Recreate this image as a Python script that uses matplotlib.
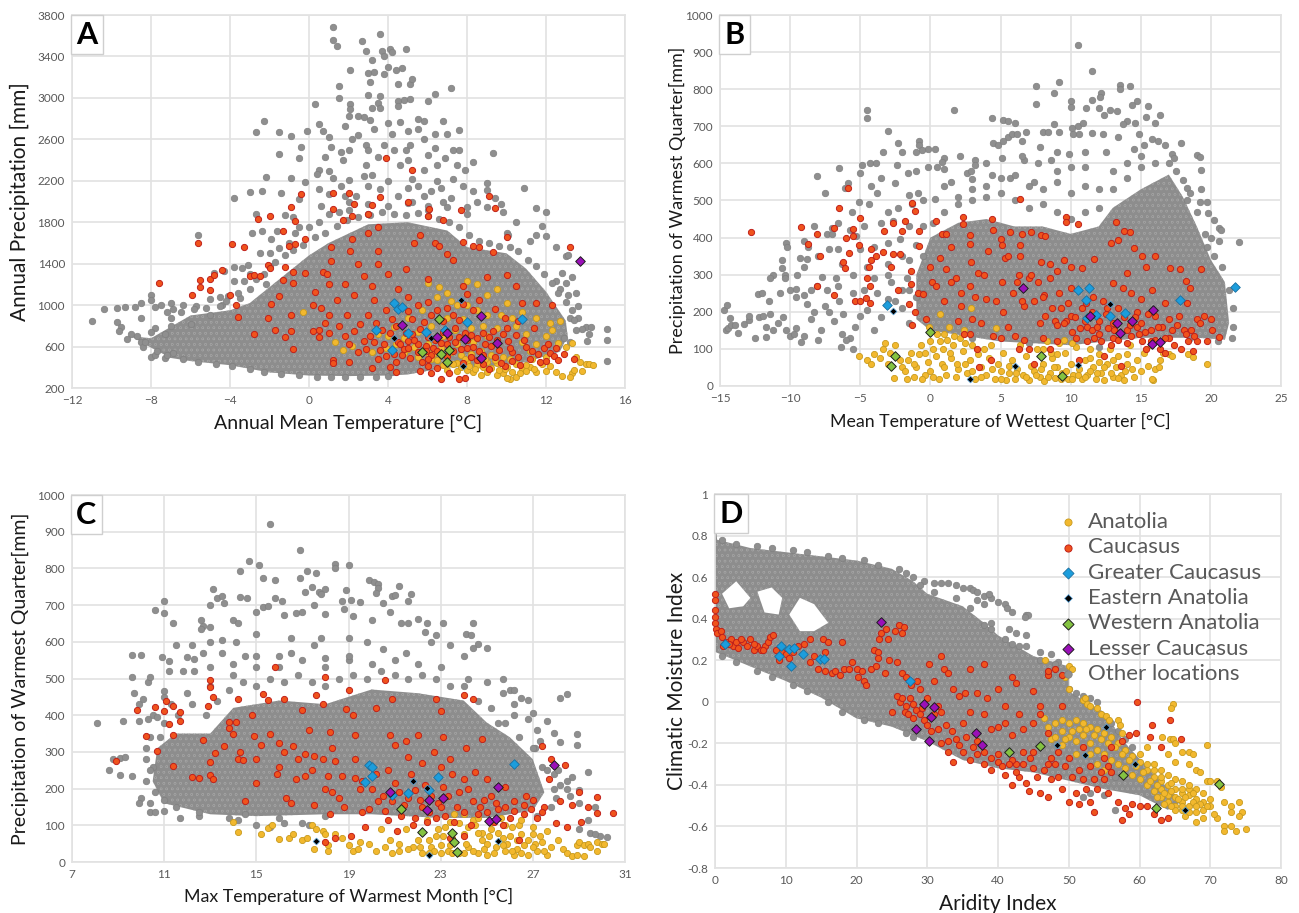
import matplotlib
matplotlib.use("Agg")
import matplotlib.pyplot as plt

plt.rcParams['font.family'] = ['Lato', 'DejaVu Sans']
plt.rcParams['hatch.linewidth'] = 0.3

# ---- panel A: annual mean temperature / annual precipitation ----
# solid part of the grey cloud, where single points can no longer be told apart
core_a = [(-9,700),(-8,680),(-6,900),(-4,950),(-3,1020),(-1.5,1250),(0,1480),(1,1600),(3,1780),(5,1800),(7,1720),(8,1560),(10,1500),(11,1350),(12,1130),(13,850),(13.1,700),(12.7,550),(11,450),(9,400),(7,400),(5,330),(4,320),(2,315),(0,320),(-2,350),(-4,420),(-6,460),(-7,490),(-8,590)]
other_a = [(1.2,3680),(1.2,3560),(1.4,3500),(2.7,3550),(3.6,3620),(2.9,3450),(3.2,3370),(3.7,3450),(3.8,3400),(4.1,3470),(4.2,3440),(4.9,3470),(2.1,3270),(3,3240),(3.3,3250),(3.8,3230),(4,3300),(4.4,3270),(4.7,3290),(3.1,3150),(4.5,3130),(5.1,3130),(5.2,3180),(1.5,3110),(1.5,3000),(3,3030),(3.5,2950),(3.6,3020),(4.5,2970),(4.8,2980),(5.1,2990),(6,2970),(6.4,3040),(7.2,3100),(2.1,2940),(2.1,2890),(0.3,2940),(3.2,2900),(3.6,2900),(4.5,2920),(5.5,2800),(5.8,2780),(6.8,2780),(2,2830),(2.5,2830),(2.8,2820),(3.1,2790),(1.8,2730),(0.5,2750),(-2.3,2780),(-2.7,2670),(-1.5,2670),(-0.9,2630),(-0.1,2680),(0.7,2680),(1,2620),(3.3,2700),(4,2760),(4.6,2770),(5,2680),(5.5,2700),(6.4,2650),(7.6,2690),(7,2650),(2.5,2640),(2.9,2550),(4.9,2500),(5.1,2550),(6.4,2520),(1.1,2530),(1.6,2480),(-0.4,2530),(-1.5,2460),(-0.5,2420),(0.8,2430),(2,2500),(3,2500),(3.5,2430),(5,2400),(6,2450),(7.3,2500),(7.6,2500),(8.3,2380),(9.3,2470),(0.5,2300),(1,2290),(1.7,2400),(2.9,2350),(4.6,2350),(5.8,2300),(6.5,2350),(7.5,2350),(7.9,2300),(-2.2,2240),(-0.9,2230),(-0.2,2190),(0.4,2270),(1.2,2230),(2,2210),(2.8,2250),(3.2,2260),(5.2,2220),(6.5,2200),(7.3,2220),(9,2180),(-3,2090),(-2.4,2100),(-1.4,2080),(0.5,2120),(1.6,2150),(3.6,2120),(5,2130),(6.7,2130),(8.3,2100),(9,2110),(10.9,2130),(-3.8,2030),(-0.5,2020),(1,2070),(2.4,2050),(4.5,2050),(5.8,2050),(7.2,2030),(8.5,2000),(9.4,2030),(9.7,1980),(-2.7,1880),(-1.2,1870),(-0.8,1850),(0.6,1960),(2,1920),(3,1880),(6,1920),(8,1880),(9,1950),(9.8,1900),(11.5,1940),(12,1900),(-2.9,1700),(-2.4,1720),(-1.6,1720),(-1.9,1640),(10.5,1800),(11.8,1760),(10,1700),(11.2,1620),(11.5,1680),(12,1670),(10.1,1680),(12.5,1560),(13,1470),(13.1,1480),(-5.6,1680),(12.8,1310),(13.3,1270),(13,1210),(13.5,1120),(12.5,1230),(12.7,1160),(13.1,1100),(13.6,990),(13.2,880),(13.6,880),(14,790),(14.3,790),(15.1,770),(15.1,660),(15.1,460),(14.1,650),(13.8,770),(14.2,720),(-3.4,1360),(-3.1,1390),(-3.8,1370),(-4.3,1330),(-4.8,1310),(-3.8,1230),(-3.3,1230),(-3.5,1070),(-4.1,1090),(-4.4,1000),(-5.7,990),(-6.4,1000),(-7,1020),(-6.9,960),(-7.2,930),(-8,1100),(-8,1050),(-8.5,1020),(-8.8,980),(-9.3,980),(-9.7,970),(-10.4,960),(-11,850),(-9.7,840),(-9.5,790),(-9.6,750),(-9,720),(-8.7,700),(-9.2,670),(-8.5,640),(-8.4,600),(-8,500),(-7.8,520),(-7.3,490),(-7.8,980),(-7.5,1000),(-7.8,780),(-8.5,880),(-7.3,720),(-6.9,540),(-2,1500),(-1,1600),(-0.5,1750),(0.5,1800),(1.5,1900),
           (-7,880),(-6.5,930),(-5.8,960),(-5.2,970),(-4.5,990),(-4.2,1040),(-3.6,1120),(-3,1160),(-2.7,1250),(-2.3,1300),(-2,1380),(-1.7,1420),(-1.2,1480),(-0.8,1530),(-0.3,1580),(0.3,1660),(0.8,1700),(1.4,1760),(1.9,1820),(2.5,1850),(3.1,1870),(3.7,1900),(4.3,1880),(4.9,1870),(5.5,1890),(6,1860),(6.6,1830),(7.1,1800),(7.6,1750),(8.1,1680),(8.6,1620),(9.1,1600),(9.6,1570),(10.2,1560),(10.6,1520),(11.1,1440),(11.5,1380),(11.9,1300),(12.3,1210),(12.6,1120),(13,1030),(13.3,950),(13.4,860),(13.5,760),(13.2,640),(12.9,680),(2,2000),(3,1980),(4,1960),(5,1990),(6,1960),(7,1950),(8,1950),(1,1880),(0,1750),(-0.7,1700),(-1.5,1550),(-2.5,1500),(-3,1300),(-2.2,1200),(-4.5,1080),(-5,1060),(-8.3,640),(-7.7,560),(-7.2,520),(-6.4,480),(-5.6,450),(-4.7,430),(-3.9,410),(-3,380),(-2.3,350),(-1.4,335),(-0.5,325),(0.4,310),(1.1,305),(1.8,310),(2.6,305),(3.4,305),(4,320),(4.2,350),(-6,820),(-7,800),(-8,740),(-5,900),(4,2200),(5.5,2150),(3,2150),(1.8,2050),(6.2,2100),(7.8,2150),(4.2,2650),(3.8,2550),(5.8,2600),(2.2,2600),(4.3,2500),(6.9,2420),(6.8,2000),(5.2,2000)]
anatolia_a = [(-0.3,930),(1.3,640),(1.7,570),(2.2,610),(3.2,550),(3.5,720),(4,700),(4.3,790),(5,880),(5.7,950),(6,1210),(6.6,1170),(7,1120),(7.5,1000),(8,1230),(8.5,1200),(9,1100),(9.5,1160),(10,1020),(10.8,930),(11.5,880),(12.2,830),(12.7,850),(12.3,760),(12,700),(13,600),(13.3,630),(13.5,500),(13.7,450),(14,430),(14.2,430),(14.4,420),(13.3,340),(13.2,310),(13.4,370),(13.8,360),(12.5,350),(12.8,320),(12,360),(11.5,350),(11.2,400),(10.8,380),(10.5,310),(10.2,290),(10,300),(9.8,340),(9.5,330),(9,350),(8.7,330),(8.3,350),(8,370),(7.5,360),(7,370),(6.8,420),(6.2,480),(5.5,500),(6,540),(6.5,470),(7,500),(7.5,440),(8,450),(8.5,420),(9,450),(9.5,440),(10,400),(10.5,430),(11,420),(7.2,550),(7.7,520),(8.2,530),(8.7,560),(9.2,520),(9.8,500),(10.2,480),(7.5,620),(8.3,640),(9,700),(9.5,780),(8.8,800),(7.8,870),(7,880),(6.2,800),(5.5,740),(10.5,800),(11,720),(11.5,620),(12,500),(11.3,480),
              (4.4,620),(4.8,540),(5.3,600),(5.8,570),(6.3,530),(6.7,590),(7.3,430),(7.7,400),(8.1,410),(8.4,380),(8.8,400),(9.2,390),(9.6,370),(9.9,380),(10.3,350),(10.7,340),(11,360),(11.4,380),(11.8,430),(12.2,410),(6.5,1080),(7.2,1040),(8,1000),(8.5,950),(9,900),(8.2,780),(7.4,760),(6.8,700),(9.7,900),(10.3,880),(10.8,640),(11.2,560),(12.6,630),(7,440),(7.9,480),(8.9,480),(9.4,470),(6,620),(5,580),(4.8,680),(3.9,590)]
caucasus_a = [(-7.6,1210),(-5.6,1600),(-5.5,1240),(-5.5,1170),(-5,1250),(-5,1150),(-4.8,1290),(-4.4,1340),(-5.9,1100),(-3.9,1590),(-3.3,1560),(-4,1100),(-3.7,1000),(-3,1280),(-2.8,1290),(-2.5,1280),(-2.6,1830),(-2,1860),(-3.6,890),(-2.8,720),(-2.1,1390),(-2,1360),(-1.3,1720),(-0.7,1810),(-0.9,1950),(-0.4,2070),(-0.7,1590),(-0.2,1640),(-1,1570),(-1.2,1370),(-0.8,1320),(-0.2,1310),(-1.3,1240),(-0.8,1210),(-1.5,1090),(-1.9,1010),(-2.1,880),(-1.7,760),(-1.2,690),(-0.8,580),(-0.9,750),(-0.9,900),(0.2,1000),(0.7,1320),(1,1200),(1.1,1430),(1.2,1930),(1.2,2080),(2,2080),(2.3,1980),(2.5,1400),(1.7,1820),(2.2,1860),(3,1880),(3.2,1970),(3,1700),(3.5,1750),(3.6,2040),(3.9,2420),(5,2000),(5.2,2300),(6.1,1930),(6,1860),(5.6,1680),(5.3,1600),(4.9,1350),(3.5,1400),(3.5,1520),(2.2,1640),(2.1,1520),(1.1,1560),(0.9,1300),(4,1300),(4.5,1160),(5,1080),(6,1250),(6.4,1600),(6.6,1570),(7,1490),(7.3,1440),(7.7,1920),(6.8,1820),(7.8,1610),(8.3,1570),(8.6,1560),(9.3,1510),(9.1,2050),(9.4,1940),(10,1660),(10,1290),(10.5,1180),(10.8,1020),(11.5,1020),(13.2,1560),(12.3,1000),(1,900),(0.5,760),(0.8,830),(1.5,800),(1.8,700),(2,620),(2.3,750),(2.8,650),(3,900),(3.3,1050),(3.9,950),(0.2,750),(0.5,690),(1,730),(1.2,470),(1.2,440),(2,450),(3.2,390),(3.5,480),(3.8,620),(4.1,730),(4.2,870),(4.5,640),(4.8,580),(4.1,400),(4.4,350),(5.1,490),(5.5,620),(5.8,840),(5.6,360),(6,410),(6.2,340),(6.5,390),(6.7,290),(7.1,340),(7.4,780),(7.6,290),(7.9,300),(8,590),(8.2,710),(8.5,470),(8.9,620),(9.1,380),(9.3,750),(9.6,570),(9.9,410),(10.1,650),(10.3,550),(10.5,710),(10.7,420),(11,600),(11.2,480),(11.4,780),(11.6,530),(11.9,590),(12,460),(12.2,540),(12.4,510),(12.6,470),(12.9,530),(13.4,480),(5.2,720),(5.5,550),(6,690),(6.3,590),(6.7,630),(7,620),(7.3,560),(7.6,690),(7.9,730),(8.2,500),(8.5,680),(8.8,520),(9.1,690),(9.4,500),(10,780),(4.3,530),(4.6,620),(5,650),(5.7,450),(3.3,640),(3.6,570),(3.9,510),(2.5,550),(7.6,860),(7,970),(6.5,950),(5.5,1000),(5,940),(6,1030),(8,1110),(9,1270),(8.3,950),(7.8,1180),
              (1.4,1050),(1.8,1200),(2.3,1100),(2.8,1280),(3.2,1180),(0.3,1130),(0.6,970),(1.9,900),(2.6,820),(3.4,830),(3.7,760),(2.9,580),(3.1,700),(4.4,450),(4.7,520),(5,590),(5.3,660),(5.6,770),(5.9,610),(6.2,520),(6.5,560),(6.8,740),(7.1,690),(7.4,640),(7.7,580),(8,660),(8.3,600),(8.6,560),(8.8,730),(9.2,610),(9.5,660),(9.8,720),(10.2,590),(10.6,500),(10.9,660),(11.3,560),(11.7,450),(12.1,620),(12.5,590),(6.4,660),(5.9,560),(4.9,730),(4.4,800),(5.2,870),(6.2,900),(6.8,850),(7.3,900),(7.8,1010),(8.6,1050),(9.4,960),(9.9,880),(10.6,850),(6,480),(7,510),(7.8,440),(8.8,430),(9.7,440),(10.3,460)]
gc_a = [(4.3,1020),(4.5,965),(4.7,985),(3.4,760),(5,730),(5.9,745),(6.9,760),(8,840),(10.8,870),(4.2,565)]
ea_a = [(7.7,1045),(4.3,680),(6.2,685),(7.8,415)]
wa_a = [(6.6,865),(5.7,545),(6.7,530),(7.1,570),(7,450)]
lc_a = [(13.7,1430),(8.7,895),(4.7,810),(6.5,695),(7,730),(7.9,670),(9.5,630),(8.7,490)]

# ---- panel B: mean temperature of wettest quarter / precipitation of warmest quarter ----
core_b = [(-1,300),(0,400),(2,440),(4,450),(6,430),(8,430),(10,410),(12,430),(13,480),(15,530),(17,570),(18,510),(19,430),(20,340),(21,280),(21.3,170),(21,125),(19,130),(15,130),(10,110),(5,120),(0,150),(-1,180)]
other_b = [(10.5,920),(11.5,850),(9.2,820),(7.5,808),(8.8,790),(13.5,810),(13.5,800),(14.2,808),(12.2,790),(12.1,780),(11.5,772),(10,768),(10,752),(7.5,760),(14.7,768),(14.4,758),(15.5,755),(11.1,750),(12,748),(12.8,745),(13.3,740),(1.7,743),(-4.5,745),(-4.5,723),(4.4,722),(5.2,718),(5.5,714),(6,710),(8.8,705),(9.2,685),(10.1,695),(10.5,700),(10.9,708),(12.4,730),(15.4,725),(16.4,730),(16,710),(14.6,708),(14,715),(13.7,705),(-3,688),(6.8,685),(8,685),(8.4,685),(10.2,678),(10.6,680),(11.5,682),(12.3,680),(13.4,670),(14.9,680),(15.8,665),(16.2,660),(16.7,650),(17.9,655),(5.5,672),(5.8,680),(6.2,678),(-2.3,655),(-0.8,660),(-0.8,650),(-0.2,640),(0.3,640),(-0.6,635),(4.5,655),(4.8,650),(5.2,660),(6.5,660),(7.8,645),(9,630),(9.9,625),(11,630),(12.5,630),(14.5,640),(15.2,650),(17.2,625),(17.4,615),(19,622),(19.2,618),(19.3,583),(-3.4,632),(-2,630),(-1,630),(2.1,620),(1,615),(0.8,605),(3.2,608),(3.2,595),(5.1,615),(6.7,610),(7.7,600),(8.6,610),(10,590),(-6.5,587),(-4.3,600),(-3.9,600),(-4.9,597),(-5,575),(-8.1,565),(-2.4,595),(-1.6,575),(-1,580),(-0.2,590),(0.5,590),(1,585),(2.6,575),(2.9,580),(-2.5,548),(-3.5,560),(-5.9,548),(-6.1,533),(-4.2,540),(-7.5,520),(-3.8,520),(-1.5,515),(-0.9,520),(1.5,550),(3,558),(4.4,570),(5.7,560),(7.4,550),(18,555),(18.3,535),(18.5,520),(19.3,530),(19.2,495),(19.7,495),(19.8,465),(-5.1,495),(-4.4,490),(-3,470),(-2.3,480),(-1.3,490),(-0.5,500),(0.3,505),(-5.6,470),(-6.6,440),(-8.3,432),(-7,425),(-7.4,410),(-9,390),(-8.7,375),(-10.3,385),(-10.2,375),(-7,410),(-5.7,420),(-5.3,405),(-4.7,430),(-3.5,440),(-2.7,445),(-1.5,430),(20.2,448),(20.6,425),(20.7,420),(20.6,390),(22,387),(20,400),(19.7,375),(-7.2,370),(-6.6,368),(-5,370),(-4,375),(-3,385),(-2.2,395),(-8,350),(-8.8,342),(-9.3,345),(-10.6,340),(-9,320),(-10.6,318),(-6.3,330),(-4.5,320),(-3,330),(-2,350),(-1.5,340),(-11.2,298),(-11.4,290),(-10.4,300),(-10.4,290),(-9.5,300),(-7.7,295),(-6.7,290),(-5.5,300),(-4,290),(-2.8,280),(-1.7,290),(-12.3,248),(-12,250),(-11.5,228),(-10.7,250),(-10,260),(-9.6,262),(-9.6,240),(-9,245),(-8.5,260),(-8.1,270),(-7.4,260),(-6.6,270),(-5.5,250),(-4.7,260),(-3.8,250),(-2,260),(-14.7,205),(-14.5,218),(-14.6,150),(-14.4,155),(-14.3,182),(-14.2,165),(-13.9,165),(-13.7,142),(-13.3,168),(-12.9,178),(-12.9,190),(-12.5,130),(-12.2,185),(-11.9,190),(-11.7,133),(-11.7,160),(-11.4,195),(-11.2,150),(-10.9,170),(-10.5,185),(-10.3,150),(-10,135),(-9.7,140),(-9.6,155),(-9.2,118),(-9,135),(-8.8,220),(-8.5,180),(-8.3,200),(-8,125),(-7.8,150),(-7.5,215),(-7.2,200),(-6.9,175),(-6.5,230),(-6.2,195),(-5.7,130),(-5.5,100),(-5.4,160),(-5,190),(-4.5,205),(-4,150),(-3.5,185),(-6.4,105),(-6.3,140),(-6,125),(-3,235),(-2,210),(-1.5,170),
           (-0.5,350),(0.2,440),(1,470),(2,490),(3,500),(4,510),(5,520),(6,500),(7,480),(8,490),(9,470),(10,450),(11,470),(12,480),(13,530),(14,560),(15,590),(16,600),(17,600),(17.5,580),(18.3,500),(19,470),(19.6,410),(20.2,350),(20.8,320),(21.3,260),(21.6,210),(21.6,160),(21.5,130),(20.5,120),(1,540),(3,530),(5,560),(6,570),(7,540),(9,550),(10,520),(11,540),(12,530),(13,580),(14,600),(15,620),(2,510),(4,540),(8,530),(-0.5,250),(-1,240),(-1.5,260),(-2.5,230),(-3,300),(-0.5,430),(-1,380),(18.5,130),(16,120),(12,105),(7,115),(3,130),(9,580),(11,590),(6.5,620),(4,600)]
anatolia_b = [(-5.1,80),(-4.5,70),(-4.2,60),(-4,85),(-3.6,75),(-3.4,100),(-3.2,115),(-3,60),(-2.9,90),(-2.6,22),(-2.5,110),(-2.2,70),(-2,50),(-1.7,20),(-1.6,70),(-1.4,90),(-1.2,25),(-1,50),(-0.8,85),(-0.7,110),(-0.4,30),(-0.2,65),(-0.1,160),(0,120),(0.2,25),(0.4,80),(0.5,140),(0.7,195),(0.8,60),(0.9,100),(1.1,30),(1.2,125),(1.3,160),(1.5,75),(1.6,110),(1.8,25),(2,45),(2.1,130),(2.3,95),(2.4,150),(2.6,35),(2.8,70),(2.9,210),(3,110),(3.2,20),(3.4,85),(3.6,50),(3.8,100),(4,30),(4.2,75),(4.3,110),(4.6,18),(4.8,60),(5,40),(5.2,90),(5.4,15),(5.6,35),(5.8,70),(6,20),(6.2,45),(6.4,110),(6.6,30),(6.8,80),(7,15),(7.2,55),(7.4,40),(7.6,100),(7.8,25),(8,60),(8.1,13),(8.3,120),(8.5,35),(8.7,75),(8.9,22),(9,50),(9.2,115),(9.4,35),(9.6,90),(9.8,18),(10,60),(10.2,30),(10.4,105),(10.6,45),(10.8,20),(11,70),(11.2,30),(11.4,100),(11.6,50),(11.8,20),(12,85),(12.2,35),(12.4,15),(12.6,60),(12.8,100),(13,25),(13.2,50),(13.4,80),(13.6,30),(13.8,15),(14,60),(14.2,110),(14.5,25),(14.7,70),(15,40),(15.2,90),(15.5,55),(15.7,110),(15.9,15),(16,45),(16.3,50),(16.6,90),(17,85),(18.4,85),(18.7,78),(19.7,58),(16.4,70),(15.8,18),(17.2,80),(4.7,155),
              (-1.8,40),(-1.2,60),(-0.6,20),(0,40),(0.6,20),(1,50),(1.4,90),(1.9,60),(2.5,60),(3,40),(3.6,25),(4.4,45),(5,20),(5.6,55),(6.1,35),(6.8,25),(7.5,30),(7.9,45),(8.4,25),(8.8,50),(9.3,20),(9.7,40),(10.1,20),(10.5,30),(11,25),(11.4,40),(11.9,35),(12.4,50),(12.9,35),(13.4,22),(13.9,40),(14.4,45),(1,140),(0.7,120),(1.7,135),(2.5,115),(-0.4,90),(0.2,100),(8,100),(8.6,90),(9,85),(9.5,125),(10.1,115),(11.4,75),(12,65),(13,70),(14,85)]
caucasus_b = [(-12.8,415),(-9.2,428),(-8.7,382),(-8.1,410),(-7.9,350),(-8.1,270),(-6.9,245),(-6.9,425),(-6.5,480),(-5.9,533),(-6,400),(-5.5,422),(-5.5,405),(-5,453),(-5.1,380),(-5.8,358),(-6.2,335),(-6.1,318),(-5.4,228),(-5,230),(-4.6,238),(-4.3,225),(-4.4,320),(-4.5,290),(-4.3,270),(-4.2,370),(-4.2,340),(-3.9,350),(-3.4,360),(-3.3,418),(-2.7,440),(-2.7,355),(-2.2,355),(-2.8,320),(-2.3,260),(-2,418),(-1.8,445),(-1.3,492),(-1.1,472),(-0.8,418),(-0.8,378),(-1.4,310),(-1.4,275),(-1.5,220),(-1.1,200),(-1.3,165),(-0.9,252),(-0.5,248),(-0.3,180),(0,320),(0.1,280),(0.4,445),(0.8,410),(1.1,410),(0.7,345),(1.5,375),(1.1,315),(1.5,280),(2.3,455),(2.3,438),(2.8,408),(2.8,382),(2.2,215),(2,175),(3,180),(2.9,335),(2.8,270),(3.4,305),(3.8,300),(4.1,365),(4.4,450),(4.5,420),(5,395),(5.1,380),(5.3,345),(5.5,350),(5.1,280),(6.4,505),(5.7,415),(6.5,410),(6.4,380),(7.2,415),(7.9,408),(8.2,405),(6.4,350),(7.9,335),(8.5,330),(9,310),(9.5,340),(9.7,455),(9.7,442),(10.5,437),(10,320),(10.8,318),(11.7,343),(12.9,385),(13.2,443),(13.4,393),(13.8,418),(14.2,415),(14.5,372),(15.1,350),(15.4,322),(16,350),(17.1,318),(17.8,315),(18.2,283),(18.3,225),(18.5,265),(19.3,315),(19.5,190),(20,180),(20.1,150),(19,180),(18.6,150),(18.1,150),(17.7,190),(17,130),(16.7,225),(16.5,160),(15.8,260),(15.5,195),(15,235),(14.7,160),(14.3,250),(14,305),(13.7,265),(13.4,210),(13,278),(12.7,155),(12.3,230),(12,175),(11.6,240),(11.2,160),(10.8,210),(10.4,130),(10,265),(9.7,175),(9.3,210),(8.9,175),(8.5,290),(8.1,245),(7.8,170),(7.4,230),(7,290),(6.7,215),(6.3,300),(5.9,250),(6.7,125),(6.3,100),(5.5,160),(5,130),(4.5,135),(4.3,70),(3.5,50),(3.3,100),(2.8,140),(6,135),(7,100),(7.4,60),(8,130),(8.5,100),(9,120),(9.5,170),(10.1,145),(10.6,70),(11.2,120),(11.7,130),(12.4,80),(12.9,110),(13.1,150),(13.6,55),(14,115),(14.3,135),(14.7,200),(15.1,120),(15.4,100),(15.7,150),(16,125),(16.4,100),(16.7,90),(17,180),(17.4,110),(17.9,100),(18.4,120),(19,120),(19.7,120),(20.6,132),(18.7,95),(11,175),(12,140),(13,170),(14,150),(15,170),(16,190),(12.5,195),(11.5,200),(10,190),(9,165),(8,240),
              (6.2,280),(6.5,230),(7.2,300),(7.7,280),(8.2,190),(8.7,210),(9.2,250),(9.8,225),(10.3,185),(10.7,155),(11.1,225),(11.5,150),(11.9,160),(12.2,120),(12.6,210),(13,130),(13.4,125),(13.8,185),(14.2,165),(14.6,185),(14.9,140),(15.3,145),(15.7,120),(16.2,160),(16.7,130),(17.2,150),(17.6,165),(18.2,140),(18.8,135),(19.2,170),(2.4,140),(3.6,170),(4.7,230),(5.2,200),(4,235),(1.8,290),(0.4,270),(3.2,240),(2.2,250),(1,230)]
gc_b = [(-3.1,218),(10.5,258),(11.3,265),(11.1,233),(17.8,232),(21.7,268),(11.2,183),(11.8,192),(12.8,188),(13.9,196)]
ea_b = [(-2.7,202),(12.8,222),(6,55),(10.5,57),(2.8,18)]
wa_b = [(0,145),(-2.5,80),(-2.8,55),(7.9,82),(9.4,28)]
lc_b = [(6.6,265),(11.4,190),(13.3,170),(14.4,175),(15.9,204),(13.5,142),(15.8,112),(16.4,118)]

# ---- panel C: max temperature of warmest month / precipitation of warmest quarter ----
core_c = [(10.7,310),(11.5,350),(13,350),(14,420),(16,440),(18,430),(20,470),(22,460),(24,440),(25,380),(26,340),(27,280),(27.5,190),(27,140),(25,120),(23,120),(20,130),(18,130),(15,125),(13,130),(11,160),(10.5,220)]
other_c = [(15.6,920),(16.9,850),(14.7,820),(15.1,808),(18.4,812),(18.4,802),(19,810),(14.3,792),(17.2,792),(17.6,787),(16.9,773),(19.9,768),(20.1,762),(20.3,758),(20.3,747),(21.2,753),(15.3,775),(15.8,768),(13.1,745),(13.3,720),(14.3,722),(14.6,718),(15.8,720),(17.1,735),(17.4,750),(17.7,735),(18,745),(18.9,742),(17.8,730),(20.2,732),(20.9,725),(21,728),(21.7,730),(21.6,712),(11,712),(10.6,688),(11,678),(13,700),(13.6,705),(13.5,725),(15.3,695),(15.5,698),(16.1,712),(17.5,700),(18.7,712),(19.1,715),(19.5,708),(20.5,705),(11.4,652),(12.6,660),(12.7,643),(13,640),(12.6,635),(14,660),(14.2,650),(15,680),(16.2,672),(16.7,678),(17,680),(18,675),(18.8,690),(19.2,670),(20,660),(20.8,680),(21.3,650),(21.6,650),(22,662),(22.4,650),(23.1,652),(24.4,650),(22.3,628),(22.8,618),(24.1,622),(24.3,618),(22.6,600),(23.4,590),(24.6,595),(24.4,582),(25,583),(11.5,590),(12.2,590),(10.9,558),(10,565),(9.6,565),(9.6,503),(10.3,490),(10.4,505),(12,558),(12.3,553),(12.7,570),(13,600),(13.5,605),(14.1,600),(15,620),(16.5,610),(17.8,610),(19,610),(19.8,600),(11.2,520),(11.2,548),(11.8,520),(12.3,520),(13,530),(14,540),(15,560),(16,530),(18,555),(19,550),(20.5,580),(21.5,570),(24,560),(24.2,500),(25.7,498),(25,490),(25.7,460),(26,470),(26.2,470),(26.8,442),(26.5,448),(26.2,430),(27,405),(27.6,385),(27.2,360),(27.9,352),(28.9,350),(28.2,448),(28.5,458),(28.2,328),(28.9,318),(27.3,330),(27.1,310),(27.9,240),(28.1,250),(29.4,245),(28.7,232),(28.2,210),(28.5,200),(28,175),(28.6,180),(29,160),(29.4,115),(29.5,80),(29.9,70),(30.2,67),(29.7,75),(29,90),(9.7,460),(9.9,430),(10.1,445),(10.3,390),(9.9,385),(9.2,385),(8.1,378),(10.5,400),(10.7,395),(11,450),(11,465),(11.3,430),(8.8,282),(9.1,283),(9.3,285),(8.6,252),(9.1,238),(9.6,233),(10,175),(9.9,162),(10.4,160),(10.4,137),(10.6,135),(11,140),(10.5,260),(10.2,310),(10.2,280),(10.4,250),(11.7,120),(12.5,125),(13.8,120),(14.2,115),(15,100),(15.6,95),(17,105),(17.3,100),(16.2,105),(26.2,400),(25.5,380),(26.8,390),(27.4,260),(28.5,220),(29,195),(29.7,150),
           (11,380),(11.6,400),(12.2,430),(12.8,400),(13.3,440),(13.8,470),(14.4,490),(15,480),(15.6,500),(16.2,490),(16.8,510),(17.4,490),(18,480),(18.6,500),(19.2,510),(19.8,500),(20.4,520),(21,510),(21.6,500),(22.2,510),(22.8,500),(23.4,480),(24,480),(24.6,440),(25.2,420),(25.8,380),(26.4,340),(27,310),(27.6,250),(27.9,200),(27.8,150),(27.2,125),(12,460),(13,480),(14,510),(15,530),(16,560),(17,550),(18,530),(19,560),(20,540),(21,550),(22,540),(23,530),(14.5,560),(16.5,570),(17.5,590),(13.5,570),(10.8,340),(10.4,340),(10.2,220),(10.6,190),(11,170),(11.5,150),(12.5,135),(14.5,130),(16,120),(18,125)]
anatolia_c = [(14,108),(14.2,83),(15.2,76),(15.5,92),(15.7,100),(16,62),(16.4,65),(16.6,75),(17,60),(17.2,65),(17.4,100),(17.6,90),(17.5,35),(17.9,85),(18,75),(18.1,30),(18.1,45),(18.4,75),(18.7,65),(19,45),(19.2,30),(19.4,35),(19.5,55),(19.9,50),(20.2,30),(20.4,90),(20.6,40),(20.9,25),(21.2,30),(21.5,90),(21.8,40),(22,60),(22.2,25),(22.4,115),(22.6,40),(22.8,70),(23,25),(23.2,95),(23.4,45),(23.6,130),(23.8,25),(24,75),(24.2,40),(24.4,115),(24.6,25),(24.8,60),(25,20),(25.2,90),(25.4,40),(25.6,120),(25.8,30),(26,70),(26.2,20),(26.4,100),(26.6,45),(26.8,20),(27,75),(27.2,30),(27.4,55),(27.6,20),(27.8,40),(28.1,60),(28.3,35),(28.5,25),(28.7,15),(28.9,45),(29,55),(29.2,45),(29.4,50),(29.5,40),(29.8,55),(30,50),(30.1,50),(29.8,30),(29.2,15),(28.9,18),(24.5,100),(24.1,50),(23.5,65),(25.5,80),(26.1,95),(25,50),(26.5,75),(25.9,50),(24.8,80),(27.1,50),(26.3,35),(23.3,30),(22.7,30),
              (20.8,60),(21.2,50),(21.6,35),(22.1,40),(22.5,25),(23,45),(23.5,25),(24,25),(24.4,30),(24.9,35),(25.3,25),(25.7,45),(26.1,30),(26.5,25),(27,40),(27.3,70),(27.5,30),(26.8,60),(26.3,60),(25.7,65),(25.1,70),(24.6,80),(24.2,95),(23.8,105),(23.4,110),(23.1,70),(22.5,60),(22.9,90),(24,130),(24.6,120),(25.2,110),(25.8,100),(26.5,115),(27,95),(27.6,85)]
caucasus_c = [(8.9,275),(9.8,415),(10.2,343),(10.7,303),(10.6,422),(11,412),(11.1,440),(11.2,375),(11.4,345),(11.4,262),(11.4,425),(11.7,408),(11.7,385),(12.2,232),(12.5,228),(13,495),(13.1,450),(13,478),(12.9,425),(12.7,333),(13,272),(13,238),(13.1,225),(13.2,298),(13.6,315),(13.8,382),(13.8,365),(14,350),(14.2,443),(14.1,382),(14.3,300),(14.2,280),(14.4,278),(14.5,165),(14.8,400),(14.9,342),(15,215),(15.3,458),(15.5,442),(15.6,350),(15.8,532),(16.2,445),(16,325),(15.9,240),(16.3,175),(16.6,315),(16.5,160),(17,415),(17.1,295),(17.1,235),(17.3,360),(17.5,155),(18.1,235),(17.6,455),(17.9,430),(18,505),(18.2,355),(18.3,310),(18.4,275),(18.3,190),(18.2,130),(18.6,175),(18.9,418),(19,470),(19.2,400),(19.3,345),(19.3,280),(19.5,200),(19.6,135),(19.9,145),(19.7,95),(18.4,65),(18,55),(19.1,70),(20.2,420),(20.6,495),(20.9,445),(20.8,345),(21,320),(21.2,190),(21.3,125),(21.5,330),(21.6,285),(21.8,100),(22,345),(22.3,210),(22.7,300),(22.8,445),(23,412),(23.1,340),(23.4,280),(23.5,240),(23.8,190),(24,455),(24.1,310),(24.4,445),(24.5,245),(24.8,335),(25,225),(25.2,180),(25.5,145),(25.8,205),(26,120),(26.2,165),(26.4,60),(26.7,180),(26.9,145),(27.2,120),(27.4,317),(27.8,280),(27.7,225),(28.2,165),(28.4,265),(28.5,95),(28.7,155),(29,190),(29.1,110),(29.4,150),(29.8,178),(29.8,133),(30.5,133),(28,105),(20.7,115),(21.1,85),(20.3,165),(22.2,150),(22.6,180),(23.2,125),(23.7,150),(24.3,100),(24.6,130),(24.9,170),(25.3,110),(25.7,100),(26.6,130),(27.5,150),(21.4,155),(21.9,195),(22.4,110),(22.9,160),(23.1,205),(24.2,200),(20,200),(20.5,180),(21,215),(19.6,220),(18.7,235),(17.9,280),(16.8,280),(16.2,300),(15.2,320),(23.4,65),(24,70),
              (20.6,140),(20.9,165),(21.6,175),(21.9,120),(22.1,170),(22.5,135),(22.8,120),(23,150),(23.3,180),(23.6,110),(24,135),(24.4,165),(24.7,150),(25,135),(25.4,160),(25.8,150),(26.2,140),(26.6,155),(27,170),(27.4,135),(17.5,290),(18,200),(18.8,150),(19.3,230),(20.2,240),(20.7,250),(21.7,240),(22.2,270),(23,260),(24,225),(16,260),(15,280),(16.7,225),(17.4,250)]
gc_c = [(19.9,265),(20,258),(20,233),(19.7,218),(20.9,183),(21.6,188),(22.9,232),(26.2,268),(22.5,195)]
ea_c = [(21.8,222),(22.4,202),(17.6,57),(25.5,58),(22.5,18)]
wa_c = [(21.3,145),(22.2,82),(23.5,80),(23.6,55),(23.7,28)]
lc_c = [(20.8,192),(22.5,170),(23.1,175),(25.5,204),(22.4,142),(25.1,112),(25.4,118),(27.9,264)]

# ---- panel D: aridity index / climatic moisture index ----
core_d = [(0,0.88),(0.3,0.78),(5,0.74),(10,0.72),(15,0.70),(20,0.68),(25,0.64),(28,0.58),(30,0.52),(35,0.46),(38,0.38),(40,0.32),(45,0.22),(50,0.17),(50,0.05),(55,-0.05),(58,-0.2),(62,-0.35),(66,-0.48),(64,-0.52),(60,-0.45),(55,-0.42),(50,-0.38),(45,-0.34),(40,-0.32),(35,-0.28),(30,-0.19),(25,-0.12),(20,-0.08),(15,0.02),(10,0.10),(5,0.17),(0,0.24)]
# white gaps inside the cloud
hole1_d = [(1,0.52),(3,0.58),(5,0.5),(4,0.46),(2,0.45)]
hole2_d = [(6,0.53),(8,0.55),(9.5,0.5),(9,0.42),(7,0.43)]
hole3_d = [(10.5,0.42),(12,0.5),(14,0.47),(16,0.38),(14,0.34),(12,0.34)]
other_d = [(27,0.62),(28,0.6),(29.5,0.58),(31,0.57),(32,0.57),(33,0.57),(34,0.56),(35,0.55),(36,0.55),(36.5,0.54),(37,0.53),(38,0.51),(39,0.5),(38.7,0.52),(40,0.48),(41,0.47),(41.3,0.45),(42,0.43),(37,0.49),(38,0.47),(44,0.42),(44.2,0.42),(43.8,0.41),(41.5,0.35),(42.5,0.33),(44,0.32),(38,0.37),(39,0.38),(41,0.3),(42,0.28),(44,0.27),(46,0.24),(47.5,0.23),(48.5,0.19),(50,0.06),(51,0.04),(52,0.03),(53,0.02),(54,0),(56,-0.1),(57,-0.14),(58,-0.18),(59,-0.22),(56.5,-0.36),(55,-0.45),(52,-0.46),(53,-0.44),(56.5,-0.52),
           (1,0.78),(3,0.76),(6,0.75),(8,0.74),(11,0.73),(13,0.72),(16,0.7),(18,0.69),(21,0.68),(23,0.66),(26,0.64),(29,0.56),(31,0.53),(34,0.5),(36,0.45),(39,0.35),(43,0.27),(46,0.2),(48,0.18),(1,0.22),(3,0.19),(6,0.15),(8,0.12),(11,0.08),(13,0.05),(16,0),(18,-0.05),(21,-0.09),(23,-0.1),(27,-0.15),(28,-0.17)]
anatolia_d = [(46.7,0.2),(47,0.13),(50,0.17),(50.5,0.16),(49.5,0.12),(50,0.06),(46.5,-0.08),(47,-0.12),(47.5,-0.18),(52,0.01),(52.3,0.02),(52.6,-0.01),(53,-0.02),(54,-0.03),(54.5,-0.06),(55.2,-0.07),(55.7,-0.09),(57,-0.09),(57.3,-0.11),(57.5,-0.15),(64.8,-0.01),(64.5,-0.03),(64.3,-0.18),(64.7,-0.18),(65,-0.2),(63.2,-0.17),(64,-0.25),(65,-0.29),(66,-0.24),(67,-0.24),(67.5,-0.25),(69.5,-0.21),(68,-0.33),(68.5,-0.34),(67,-0.3),(71,-0.38),(71.5,-0.41),(69.5,-0.38),(70,-0.38),(72,-0.48),(73,-0.5),(74,-0.48),(74.5,-0.53),(74,-0.55),(73,-0.53),(72,-0.6),(72,-0.62),(73,-0.6),(73.7,-0.62),(75,-0.61),(71,-0.56),(70.5,-0.54),(69,-0.56),(68,-0.58),(66.5,-0.55),(70,-0.5),(69,-0.48),(68,-0.47),(67,-0.45),(66,-0.44),(65,-0.42),(64,-0.4),(63,-0.38),(62,-0.36),(61,-0.33),(60,-0.29),(59,-0.26),(58,-0.23),(57,-0.2),(56,-0.17),(55,-0.15),(54,-0.13),(53,-0.12),(52,-0.1),(51,-0.09),(50,-0.1),(49,-0.09),(48,-0.1),(49,-0.14),(50,-0.17),(51,-0.19),(52,-0.16),(53,-0.2),(54,-0.23),(55,-0.25),(56,-0.28),(57,-0.3),(58,-0.32),(59,-0.35),(60,-0.37),(61,-0.4),(62,-0.43),(63,-0.46),(64,-0.48),(65,-0.5),(66,-0.48),(67,-0.5),(68,-0.53),(69,-0.52),(66,-0.52),(64,-0.45),(63,-0.42),(65,-0.46),(67,-0.42),(68,-0.42),(69,-0.44),(70,-0.47),(61,-0.3),(62,-0.33),(63,-0.33),(64,-0.35),(65,-0.37),(66,-0.38),(67,-0.4),(60,-0.25),(61,-0.22),(54,-0.3),(55,-0.33),(53,-0.25),(51,-0.25),(48,-0.17),(49,-0.21),
              (62.5,-0.4),(63.5,-0.44),(64.5,-0.43),(65.5,-0.47),(66.5,-0.46),(67.5,-0.48),(68.5,-0.49),(65,-0.52),(66,-0.5),(67,-0.53),(68,-0.5),(69.5,-0.5),(64.5,-0.5),(63.5,-0.49),(62.5,-0.46),(61.5,-0.38),(60.5,-0.34),(59.5,-0.31),(58.5,-0.28),(57.5,-0.25),(56.5,-0.22),(55.5,-0.2),(54.5,-0.18),(53.5,-0.16),(52.5,-0.13),(51.5,-0.13),(50.5,-0.14),(49.5,-0.18),(62,-0.3),(63,-0.36),(64.5,-0.39),(66,-0.42),(67.5,-0.44)]
caucasus_d = [(0,0.52),(0,0.49),(0,0.44),(0,0.41),(0,0.38),(0.1,0.35),(0.3,0.33),(0.8,0.34),(1,0.31),(1.5,0.29),(2.3,0.3),(2.5,0.27),(3,0.29),(3.2,0.26),(4,0.29),(4.5,0.27),(5,0.3),(5.5,0.25),(6,0.27),(6.5,0.25),(7,0.27),(7.5,0.29),(7.8,0.31),(8.2,0.32),(8.6,0.25),(9,0.2),(9.5,0.24),(10,0.23),(10.5,0.21),(11,0.24),(11.8,0.27),(12.6,0.28),(13.4,0.3),(13.4,0.19),(14,0.22),(14.5,0.16),(15.3,0.3),(15.6,0.24),(15.5,0.15),(16,0.29),(16.5,0.14),(17,0.15),(17.7,0.13),(17.9,0.29),(18.2,0.16),(19,0.16),(19.3,0.19),(20,0.16),(20.2,0.12),(20.8,0.15),(21,0.1),(21.3,0.08),(22,0.16),(22.5,0.25),(23,0.24),(23.2,0.3),(23.5,0.33),(24.2,0.35),(24.5,0.3),(25.5,0.34),(26,0.37),(26.5,0.33),(26.7,0.36),(23,0.21),(22.7,0.17),(24,0.14),(24.6,0.2),(25.7,0.19),(26.5,0.14),(27,0.12),(27.7,0.08),(28.5,0.1),(29,0.06),(30,0.02),(30.3,0.18),(31,0.1),(32,0.22),(32.3,0.16),(33,0.14),(33.7,0.06),(34.5,0.03),(35.3,0.04),(36,0.16),(37,0.04),(38,0.18),(38.5,0.02),(40,0.06),(41,-0.02),(42,0.12),(42.5,0.09),(45,0.05),(46,-0.02),(47,0.13),(47,0.15),(48,0.16),(49,0.13),(25,-0.05),(25.7,0.03),(26.2,0),(27,-0.02),(27.5,0.02),(28,-0.01),(28.4,-0.04),(29,-0.06),(29.5,-0.09),(30,-0.11),(31,-0.06),(31.5,-0.13),(32,-0.05),(32.7,-0.11),(33.5,-0.14),(34,-0.18),(35,-0.1),(35.5,-0.17),(36,-0.05),(37,-0.19),(38,-0.06),(39,-0.13),(40,-0.12),(41,-0.1),(42,-0.16),(43,-0.06),(43.5,-0.13),(45,-0.1),(46,-0.06),(47,-0.15),(49,-0.02),(32,-0.2),(33,-0.24),(33.6,-0.29),(35,-0.24),(36,-0.28),(37,-0.25),(38,-0.3),(39,-0.33),(40,-0.29),(41,-0.35),(42,-0.4),(42.5,-0.3),(43,-0.36),(44,-0.39),(44.4,-0.43),(45,-0.32),(46,-0.44),(47,-0.46),(47.5,-0.37),(48,-0.3),(49,-0.42),(50,-0.48),(51,-0.44),(51.5,-0.49),(52,-0.37),(53,-0.48),(53.5,-0.53),(54,-0.42),(55,-0.37),(55.5,-0.44),(56,-0.34),(57,-0.48),(57.5,-0.57),(58,-0.51),(58.5,-0.54),(59,-0.49),(60,-0.5),(61,-0.5),(62,-0.54),(63,-0.57),(64,-0.56),(59.6,0),(64.3,-0.09),(61.7,-0.11),(65.8,-0.18),(63,-0.22),(61.5,-0.17),(59.5,-0.15),(58.5,-0.16),(57.5,-0.19),(56,-0.22),(55,-0.27),(53,-0.31),(52,-0.22),(50,-0.27),(48.5,-0.24),(47,-0.3),(45,-0.24),(43.5,-0.24),(42,-0.28),(40,-0.25),(38,-0.24),
              (39,-0.27),(40.5,-0.31),(41.5,-0.3),(42.5,-0.34),(43.5,-0.3),(44.5,-0.27),(45.5,-0.36),(46.5,-0.33),(47.5,-0.27),(48.5,-0.36),(49.5,-0.31),(50.5,-0.36),(51.5,-0.33),(52.5,-0.42),(53.5,-0.37),(54.5,-0.34),(55.5,-0.31),(36.5,-0.22),(34.5,-0.21),(33,-0.19),(1.2,0.27),(2,0.28),(3.7,0.3),(5.5,0.28),(6.8,0.25),(26.5,0.02),(26.8,-0.05),(27.3,-0.06),(28,-0.08),(29.3,-0.03),(30.5,-0.14),(31.5,-0.02)]
gc_d = [(1.4,0.28),(9.3,0.27),(9,0.22),(10.4,0.255),(11.2,0.26),(12.4,0.23),(10.8,0.17),(14.9,0.205),(15.4,0.205),(27.6,0.1)]
ea_d = [(55.2,-0.12),(48.3,-0.21),(52.3,-0.255),(59.3,-0.3),(66.4,-0.52)]
wa_d = [(41.6,-0.24),(46,-0.213),(57.6,-0.35),(62.4,-0.51),(71.3,-0.395)]
lc_d = [(23.5,0.385),(29.5,-0.01),(31,-0.025),(30.5,-0.075),(28.4,-0.13),(30.2,-0.19),(36.9,-0.15),(37.7,-0.21)]

W, H = 1299, 913
TICK_COL = '#595959'
GRID_COL = '#e2e2e2'


def scat(ax, pts, label, marker, s, face, edge, lw, z):
    xs = [p[0] for p in pts]
    ys = [p[1] for p in pts]
    return ax.scatter(xs, ys, s=s, marker=marker, c=face, edgecolors=edge, linewidths=lw, zorder=z, label=label, clip_on=False)


def panel(box, letter, xlim, ylim, xstep, ystep, xlabel, ylabel, core, other, ana, cau, gc, ea, wa, lc, xlab_y, ylab_x, xfs, yfs, holes=()):
    left, right, top, bottom = box
    ax = fig.add_axes([left / W, 1 - bottom / H, (right - left) / W, (bottom - top) / H])
    ax.set_xlim(xlim)
    ax.set_ylim(ylim)
    n = round((xlim[1] - xlim[0]) / xstep)
    ax.set_xticks([xlim[0] + i * xstep for i in range(n + 1)])
    n = round((ylim[1] - ylim[0]) / ystep)
    yt = [round(ylim[0] + i * ystep, 1) for i in range(n + 1)]
    ax.set_yticks(yt)
    ax.set_yticklabels([f'{v:g}' for v in yt])
    ax.tick_params(length=0, labelsize=8.5, labelcolor=TICK_COL, pad=5)
    ax.grid(True, color=GRID_COL, lw=1.2)
    ax.set_axisbelow(True)
    for sp in ax.spines.values():
        sp.set_color(GRID_COL)
        sp.set_linewidth(1.2)
    # dense part of the cloud
    ax.fill([p[0] for p in core], [p[1] for p in core], facecolor='#8d8d8d', edgecolor='#a2a2a2', hatch='ooo', lw=0, zorder=2)
    for hole in holes:
        ax.fill([p[0] for p in hole], [p[1] for p in hole], facecolor='white', lw=0, zorder=2.5)
    scat(ax, other, 'Other locations', 'o', 22, '#8f8f8f', '#7f7f7f', 0.5, 3)
    scat(ax, ana, 'Anatolia', 'o', 20, '#f2b82e', '#c79a1e', 0.6, 4)
    scat(ax, cau, 'Caucasus', 'o', 20, '#f0531c', '#c0201a', 0.7, 5)
    scat(ax, gc, 'Greater Caucasus', 'D', 24, '#1c9ddc', '#1a6fa0', 0.6, 6)
    scat(ax, ea, 'Eastern Anatolia', 'D', 12, '#000000', '#5aa8e0', 0.5, 6)
    scat(ax, wa, 'Western Anatolia', 'D', 24, '#84c341', '#1d1d1d', 0.7, 6)
    scat(ax, lc, 'Lesser Caucasus', 'D', 24, '#9a10b8', '#1d1d1d', 0.7, 6)
    ax.text(0.0075, 0.985, letter, transform=ax.transAxes, ha='left', va='top', fontsize=22, fontweight='bold', color='black', zorder=8,
            bbox=dict(facecolor='white', edgecolor='#cfcfcf', lw=1, boxstyle='square,pad=0.18'))
    fig.text((left + right) / 2 / W, 1 - xlab_y / H, xlabel, ha='center', va='center', fontsize=xfs, color='#1a1a1a')
    fig.text(ylab_x / W, 1 - (top + bottom) / 2 / H, ylabel, ha='center', va='center', rotation=90, fontsize=yfs, color='#1a1a1a')
    return ax


fig = plt.figure(figsize=(W / 100, H / 100), dpi=100, facecolor='white')

panel((72, 625, 15, 388), 'A', (-12, 16), (200, 3800), 4, 400, 'Annual Mean Temperature [°C]', 'Annual Precipitation [mm]',
      core_a, other_a, anatolia_a, caucasus_a, gc_a, ea_a, wa_a, lc_a, 423, 20, 14, 15)
panel((720, 1281, 15, 386), 'B', (-15, 25), (0, 1000), 5, 100, 'Mean Temperature of Wettest Quarter [°C]', 'Precipitation of Warmest Quarter[mm]',
      core_b, other_b, anatolia_b, caucasus_b, gc_b, ea_b, wa_b, lc_b, 421, 677, 12.8, 13)
panel((72, 625, 495, 862), 'C', (7, 31), (0, 1000), 4, 100, 'Max Temperature of Warmest Month [°C]', 'Precipitation of Warmest Quarter[mm]',
      core_c, other_c, anatolia_c, caucasus_c, gc_c, ea_c, wa_c, lc_c, 896, 20, 12.8, 14)
ax_d = panel((715, 1281, 494, 868), 'D', (0, 80), (-0.8, 1), 10, 0.2, 'Aridity Index', 'Climatic Moisture Index',
             core_d, other_d, anatolia_d, caucasus_d, gc_d, ea_d, wa_d, lc_d, 904, 677, 15, 15, holes=(hole1_d, hole2_d, hole3_d))

h, lab = ax_d.get_legend_handles_labels()
order = ['Anatolia', 'Caucasus', 'Greater Caucasus', 'Eastern Anatolia', 'Western Anatolia', 'Lesser Caucasus', 'Other locations']
hs = [h[lab.index(k)] for k in order]
leg = ax_d.legend(hs, order, loc='upper right', bbox_to_anchor=(1.0, 1.005), frameon=False, fontsize=16, labelcolor=TICK_COL,
                  labelspacing=0.24, handlelength=1, handletextpad=0.4, markerscale=1.15)
leg.set_zorder(9)

fig.savefig('out.png', dpi=100)
